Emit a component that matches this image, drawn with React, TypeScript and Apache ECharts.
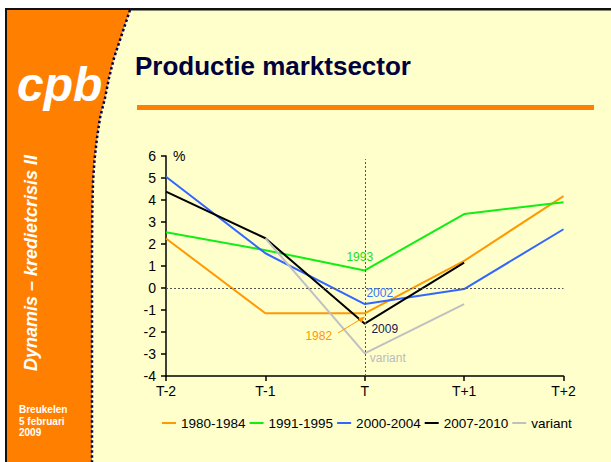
import React, { useEffect, useRef } from "react";
import * as echarts from "echarts";

const categories = ["T-2", "T-1", "T", "T+1", "T+2"];
const s1980 = [2.25, -1.15, -1.15, 1.23, 4.18];
const s1991 = [2.53, 1.72, 0.8, 3.36, 3.9];
const s2000 = [5.06, 1.58, -0.73, -0.05, 2.67];
const s2007: (number | string)[] = [4.38, 2.26, -1.62, 1.15, "-"];
const sVariant: (number | string)[] = ["-", 2.26, -2.97, -0.73, "-"];
const seriesNames = ["1980-1984", "1991-1995", "2000-2004", "2007-2010", "variant"];
const seriesColors = ["#FF9900", "#11EE11", "#3366FF", "#000000", "#C0C0C0"];
const pointLabels = ["1982", "1993", "2002", "2009", "variant"];
const labelColors = ["#FF9900", "#22DD22", "#3377FF", "#1A1A50", "#BBBBBB"];
const labelOffsets = [[-46, 23], [-5, -13], [15, -11], [20, 5], [23, 5]];
const yTicks = { min: -4, max: 6, interval: 1 };
const LABEL_AT = 2; // category index "T"

const FONT = "'Liberation Sans', Arial, Helvetica, sans-serif";

const edgePts = [
  [130, 10], [122, 34], [114, 58], [109, 78], [105, 98], [100, 118], [97, 138],
  [94.5, 160], [93, 182], [92.3, 210], [92, 250], [92, 462],
];

function lineSeries(i: number, data: (number | string)[]) {
  return {
    name: seriesNames[i],
    type: "line",
    data,
    color: seriesColors[i],
    showSymbol: false,
    symbol: "none",
    lineStyle: { width: 2, color: seriesColors[i] },
    emphasis: { disabled: true },
    markPoint: {
      silent: true,
      symbol: "circle",
      symbolSize: 1,
      itemStyle: { color: "rgba(0,0,0,0)" },
      label: {
        show: true,
        formatter: pointLabels[i],
        position: "inside",
        offset: labelOffsets[i],
        color: labelColors[i],
        fontSize: 12,
        fontFamily: FONT,
      },
      data: [{ coord: [LABEL_AT, data[LABEL_AT]] }],
    },
  };
}

export default function App() {
  const ref = useRef<HTMLDivElement>(null);
  useEffect(() => {
    if (!ref.current) return;
    const chart = echarts.init(ref.current, undefined, { renderer: "svg" });
    const orangePoly = [[7, 10], ...edgePts, [7, 462]];
    const option: any = {
      animation: false,
      backgroundColor: "#FFFFCC",
      textStyle: { fontFamily: FONT },
      graphic: {
        elements: [
          { type: "rect", shape: { x: 0, y: 0, width: 611, height: 8 }, style: { fill: "#FFFFFF" }, silent: true },
          { type: "rect", shape: { x: 0, y: 8, width: 611, height: 2.5 }, style: { fill: "#111111" }, silent: true },
          { type: "rect", shape: { x: 0, y: 8, width: 5, height: 454 }, style: { fill: "#FFFFFF" }, silent: true },
          { type: "rect", shape: { x: 5, y: 8, width: 2.5, height: 454 }, style: { fill: "#111111" }, silent: true },
          { type: "polygon", shape: { points: orangePoly }, style: { fill: "#FF8000" }, silent: true },
          {
            type: "polyline",
            shape: { points: edgePts },
            style: { stroke: "#000050", lineWidth: 2.5, lineDash: [2.5, 2.5], fill: "none" },
            silent: true,
          },
          {
            type: "text",
            x: 17,
            y: 84,
            style: {
              text: "cpb",
              fill: "#FFFFFF",
              font: "italic bold 48px " + FONT,
              verticalAlign: "middle",
              align: "left",
            },
            silent: true,
          },
          {
            type: "text",
            x: 31,
            y: 263,
            rotation: Math.PI / 2,
            style: {
              text: "Dynamis – kredietcrisis II",
              fill: "#FFFFFF",
              font: "italic bold 18px " + FONT,
              align: "center",
              verticalAlign: "middle",
            },
            silent: true,
          },
          {
            type: "text",
            x: 19,
            y: 404,
            style: {
              text: "Breukelen\n5 februari\n2009",
              fill: "#FFFFFF",
              font: "bold 10px " + FONT,
              lineHeight: 11.5,
              align: "left",
              verticalAlign: "top",
            },
            silent: true,
          },
          {
            type: "text",
            x: 135,
            y: 66,
            style: {
              text: "Productie marktsector",
              fill: "#00003C",
              font: "bold 26px " + FONT,
              align: "left",
              verticalAlign: "middle",
            },
            silent: true,
          },
          { type: "rect", shape: { x: 137, y: 105, width: 457, height: 5 }, style: { fill: "#FF8000" }, silent: true },
          {
            type: "line",
            shape: { x1: 338, y1: 333, x2: 361, y2: 319 },
            style: { stroke: "#FF9900", lineWidth: 1 },
            silent: true,
            z: 10,
          },
          {
            type: "polygon",
            shape: { points: [[365, 316.5], [358.5, 318.2], [361.5, 322.8]] },
            style: { fill: "#FF9900" },
            silent: true,
            z: 10,
          },
        ],
      },
      grid: { left: 166, right: 47.5, top: 156, bottom: 86, containLabel: false, outerBoundsMode: "none" },
      legend: {
        left: 157,
        top: 411,
        icon: "rect",
        itemWidth: 14,
        itemHeight: 2,
        itemGap: 4,
        data: seriesNames,
        textStyle: { fontSize: 13.5, color: "#000000", fontFamily: FONT },
      },
      xAxis: {
        type: "category",
        data: categories,
        boundaryGap: false,
        axisLine: { onZero: false, lineStyle: { color: "#000000", width: 1.5 } },
        axisTick: { show: true, length: 5, alignWithLabel: true, lineStyle: { color: "#000000", width: 1.5 } },
        axisLabel: { color: "#000000", fontSize: 14, margin: 8, fontFamily: FONT },
        splitLine: { show: false },
      },
      yAxis: {
        type: "value",
        min: yTicks.min,
        max: yTicks.max,
        interval: yTicks.interval,
        name: "%",
        nameLocation: "end",
        nameGap: 0,
        nameTextStyle: {
          color: "#000000",
          fontSize: 14,
          align: "left",
          verticalAlign: "middle",
          padding: [0, 0, 0, 7],
          fontFamily: FONT,
        },
        axisLine: { show: true, lineStyle: { color: "#000000", width: 1.5 } },
        axisTick: { show: true, length: 5, lineStyle: { color: "#000000", width: 1.5 } },
        axisLabel: { color: "#000000", fontSize: 14, margin: 10, fontFamily: FONT },
        splitLine: { show: false },
      },
      series: [
        {
          ...lineSeries(0, s1980),
          markLine: {
            silent: true,
            symbol: "none",
            label: { show: false },
            lineStyle: { color: "#555555", type: [2, 2], width: 1 },
            emphasis: { disabled: true },
            data: [
              { yAxis: 0 },
              [{ coord: ["T", -4] }, { coord: ["T", 5.86] }],
            ],
          },
        },
        lineSeries(1, s1991),
        lineSeries(2, s2000),
        lineSeries(3, s2007),
        lineSeries(4, sVariant),
      ],
    };
    chart.setOption(option);
    return () => chart.dispose();
  }, []);
  return (
    <div
      ref={ref}
      style={{ position: "absolute", left: 0, top: 0, width: 611, height: 462 }}
    />
  );
}
